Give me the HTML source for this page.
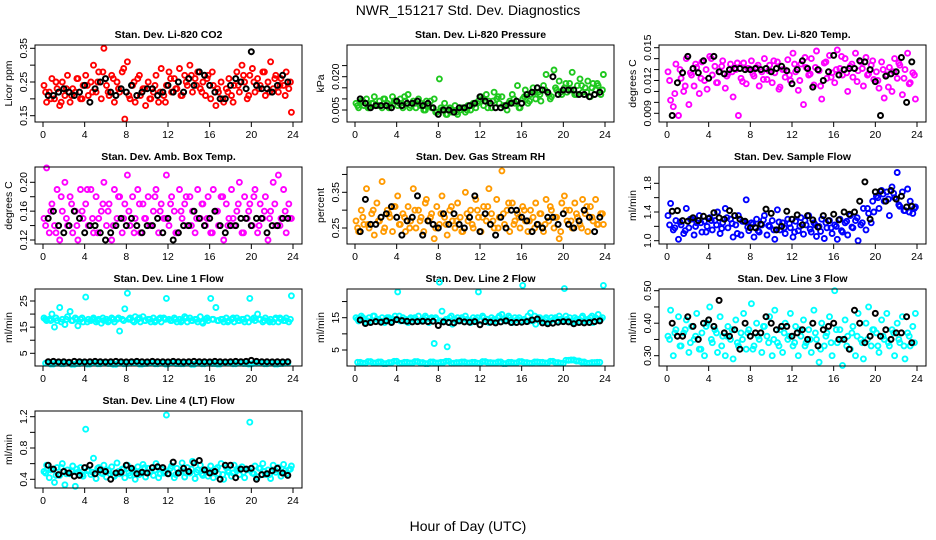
<!DOCTYPE html>
<html><head><meta charset="utf-8"><style>
html,body{margin:0;padding:0;background:#fff;}
svg{display:block;font-family:"Liberation Sans",Arial,sans-serif;}
</style></head><body>
<svg id="chart" width="936" height="540" viewBox="0 0 936 540" xmlns="http://www.w3.org/2000/svg">
<rect width="936" height="540" fill="#fff"/>
<text x="468" y="15" font-size="14" text-anchor="middle">NWR_151217  Std. Dev. Diagnostics</text>
<text x="468" y="531" font-size="14" text-anchor="middle">Hour of Day (UTC)</text>
<g id="panels"></g>
</svg>
<script>
// mode 0: every 0.25 h from 0.1 h; mode 1: every 0.5 h from 0.5 h; mode 2: every 0.5 h from 0.25 h
const xTicks = [0,4,8,12,16,20,24];
const co2Vals = [.24,.19,.22,.26,.20,.23,.18,.25,.21,.27,.19,.23,.22,.26,.20,.24,.27,.21,.25,.30,.22,.28,.20,.35,.24,.21,.27,.19,.25,.22,.28,.14,.31,.20,.24,.19,.26,.21,.23,.18,.25,.20,.22,.27,.19,.29,.21,.24,.28,.22,.26,.23,.29,.21,.27,.24,.30,.22,.26,.28,.23,.25,.21,.27,.20,.24,.18,.22,.25,.19,.23,.26,.21,.24,.28,.22,.30,.25,.20,.27,.29,.22,.26,.24,.28,.21,.25,.31,.23,.27,.22,.26,.24,.28,.23,.16];
const co2Vals2 = [.22,.20,.25,.19,.23,.21,.26,.20,.24,.22,.25,.28,.22,.26,.23,.29,.21,.25,.27,.23,.20,.24,.22,.19,.26,.23,.21,.25,.27,.24,.22,.26,.28,.23,.20,.22,.19,.24,.27,.21,.25,.23,.28,.22,.26,.24,.21,.25];
const co2Black = [.21,.21,.22,.23,.22,.21,.22,.24,.19,.23,.25,.26,.22,.21,.23,.22,.24,.21,.22,.23,.23,.21,.22,.24,.22,.25,.22,.26,.24,.28,.27,.24,.22,.20,.20,.24,.26,.25,.23,.34,.24,.23,.23,.22,.24,.27,.25];
const presVals = [.008,.006,.009,.007,.010,.006,.008,.011,.007,.009,.006,.010,.008,.007,.011,.009,.007,.010,.006,.009,.012,.007,.009,.006,.010,.008,.005,.009,.007,.006,.010,.004,.019,.005,.008,.003,.006,.004,.007,.003,.005,.006,.004,.007,.005,.008,.006,.009,.011,.007,.012,.009,.006,.013,.010,.008,.011,.007,.005,.009,.012,.008,.016,.006,.010,.014,.008,.012,.015,.010,.013,.009,.016,.021,.012,.011,.023,.014,.018,.012,.015,.013,.017,.022,.012,.016,.019,.013,.015,.018,.011,.017,.014,.016,.012,.021];
const presVals2 = [.007,.009,.006,.008,.007,.010,.006,.009,.008,.011,.006,.008,.007,.005,.009,.004,.006,.003,.005,.004,.006,.005,.007,.008,.010,.006,.009,.011,.007,.008,.010,.006,.011,.009,.013,.012,.014,.010,.015,.013,.017,.014,.012,.016,.013,.015,.017,.014];
const presBlack = [.010,.008,.006,.007,.007,.007,.006,.009,.007,.008,.008,.009,.007,.008,.006,.003,.005,.005,.004,.006,.006,.007,.008,.011,.009,.008,.006,.006,.007,.008,.009,.008,.012,.013,.015,.014,.013,.020,.012,.014,.014,.014,.012,.012,.011,.012,.013];
const liTempVals = [.0128,.0102,.0096,.0135,.0088,.0122,.0110,.0140,.0098,.0125,.0115,.0132,.0108,.0137,.0120,.0112,.0142,.0125,.0133,.0118,.0128,.0138,.0113,.0126,.0135,.0105,.0130,.0088,.0122,.0136,.0117,.0131,.0138,.0124,.0132,.0115,.0128,.0140,.0121,.0134,.0118,.0127,.0137,.0114,.0130,.0123,.0139,.0120,.0145,.0128,.0111,.0135,.0098,.0132,.0125,.0140,.0116,.0147,.0129,.0103,.0136,.0122,.0143,.0127,.0118,.0148,.0131,.0125,.0140,.0110,.0133,.0123,.0145,.0129,.0137,.0115,.0141,.0126,.0134,.0121,.0128,.0113,.0137,.0104,.0125,.0132,.0110,.0140,.0122,.0134,.0107,.0130,.0145,.0118,.0127,.0103];
const liTempVals2 = [.0120,.0108,.0130,.0115,.0127,.0135,.0122,.0130,.0140,.0118,.0133,.0124,.0128,.0136,.0119,.0131,.0126,.0134,.0121,.0129,.0138,.0112,.0130,.0125,.0135,.0120,.0141,.0126,.0132,.0115,.0137,.0123,.0130,.0142,.0127,.0135,.0119,.0131,.0125,.0138,.0120,.0130,.0114,.0128,.0136,.0122,.0117,.0125];
const liTempBlack = [.0088,.0118,.0127,.0142,.0131,.0127,.0138,.0122,.0142,.0128,.0126,.0130,.0131,.0131,.0130,.0130,.0131,.0130,.0131,.0128,.0131,.0133,.0129,.0117,.0130,.0138,.0131,.0114,.0130,.0120,.0128,.0143,.0125,.0130,.0131,.0131,.0138,.0137,.0130,.0119,.0088,.0124,.0126,.0128,.0141,.0100,.0137];
const ambVals = [.15,.22,.13,.17,.14,.19,.12,.16,.20,.14,.18,.13,.16,.12,.19,.15,.17,.14,.19,.13,.18,.15,.16,.20,.14,.17,.12,.19,.15,.18,.13,.17,.21,.14,.18,.15,.19,.13,.17,.15,.18,.14,.16,.19,.13,.17,.15,.21,.14,.18,.16,.13,.19,.15,.17,.14,.18,.16,.13,.19,.15,.17,.14,.18,.13,.19,.16,.14,.18,.12,.17,.15,.19,.14,.16,.20,.13,.18,.15,.17,.14,.19,.13,.17,.15,.18,.12,.16,.20,.14,.21,.15,.19,.13,.17,.15];
const ambVals2 = [.14,.16,.13,.18,.15,.17,.14,.16,.19,.15,.13,.17,.16,.14,.18,.15,.16,.13,.17,.15,.14,.18,.16,.15,.17,.13,.16,.18,.14,.15,.17,.15,.13,.16,.18,.14,.15,.17,.13,.16,.18,.14,.16,.15,.17,.14,.16,.15];
const ambBlack = [.15,.16,.14,.13,.14,.16,.15,.13,.14,.14,.13,.12,.13,.14,.15,.14,.15,.14,.13,.14,.14,.15,.13,.15,.12,.13,.14,.14,.16,.15,.14,.15,.16,.14,.13,.14,.14,.15,.15,.14,.15,.15,.13,.14,.14,.15,.15];
const rhVals = [.27,.24,.30,.26,.36,.25,.29,.23,.32,.27,.38,.25,.30,.28,.24,.31,.34,.26,.29,.24,.31,.27,.36,.25,.30,.28,.24,.33,.27,.29,.22,.31,.26,.34,.28,.23,.30,.27,.25,.32,.28,.24,.35,.27,.30,.25,.33,.28,.24,.31,.27,.36,.29,.25,.33,.28,.41,.26,.30,.24,.32,.27,.29,.25,.31,.27,.24,.30,.28,.32,.26,.29,.24,.33,.27,.30,.25,.28,.22,.32,.34,.27,.30,.25,.32,.28,.26,.33,.29,.24,.31,.27,.33,.26,.29,.26];
const rhVals2 = [.25,.28,.26,.30,.27,.24,.29,.31,.26,.28,.25,.30,.27,.32,.28,.25,.29,.26,.31,.27,.24,.29,.26,.30,.28,.31,.27,.25,.29,.32,.26,.28,.30,.27,.25,.29,.26,.31,.28,.24,.30,.27,.29,.25,.31,.28,.26,.29];
const rhBlack = [.24,.33,.26,.26,.28,.29,.31,.28,.23,.27,.28,.34,.23,.27,.26,.25,.29,.26,.29,.26,.25,.28,.34,.24,.29,.26,.23,.28,.25,.30,.30,.28,.27,.24,.26,.25,.28,.28,.26,.29,.26,.25,.27,.30,.28,.24,.28];
const sfVals = [1.35,1.52,1.15,1.28,1.02,1.22,1.10,1.45,1.18,1.30,1.08,1.25,1.35,1.12,1.27,1.20,1.32,1.15,1.28,1.40,1.10,1.25,1.45,1.18,1.30,1.05,1.22,1.35,1.08,1.27,1.57,1.14,1.25,1.05,1.30,1.12,1.22,1.35,1.08,1.20,1.28,1.02,1.43,1.15,1.25,1.10,1.30,1.18,1.05,1.27,1.14,1.32,1.09,1.22,1.35,1.12,1.25,1.06,1.20,1.30,1.03,1.18,1.28,1.10,1.22,1.02,1.30,1.12,1.25,1.08,1.35,1.18,1.28,1.00,1.22,1.45,1.15,1.38,1.25,1.40,1.62,1.45,1.70,1.55,1.68,1.35,1.75,1.60,1.95,1.48,1.68,1.42,1.72,1.55,1.38,1.47];
const sfVals2 = [1.22,1.18,1.26,1.14,1.30,1.20,1.25,1.12,1.28,1.22,1.17,1.32,1.24,1.10,1.27,1.19,1.23,1.14,1.29,1.21,1.15,1.26,1.18,1.24,1.12,1.20,1.28,1.16,1.22,1.13,1.25,1.18,1.20,1.14,1.27,1.19,1.32,1.25,1.45,1.55,1.60,1.65,1.58,1.66,1.50,1.42,1.40,1.45];
const sfBlack = [1.41,1.42,1.28,1.27,1.32,1.28,1.34,1.31,1.39,1.32,1.30,1.42,1.35,1.30,1.27,1.18,1.18,1.23,1.44,1.38,1.15,1.20,1.41,1.30,1.36,1.22,1.35,1.29,1.19,1.35,1.28,1.37,1.29,1.40,1.37,1.40,1.55,1.82,1.30,1.68,1.69,1.55,1.70,1.58,1.62,1.47,1.48];
const l1Upper = [18.5,17.5,18,20,15,17.5,22.5,18,16,19,21,17.5,18.5,15.5,18,17,26.5,18,17.5,18.5,17,18,16.5,17.5,18,17.5,18.5,17,18,13.5,18,22,28,18.5,17.5,19,18,17,19,17.5,18,17,18.5,17.5,18,17,18.5,26,18,17.5,18.5,17,18,17.5,19,17,18.5,17.5,18,17,19,16.5,18,17.5,26,18,22.5,17.5,18,17,18.5,17.5,18,17,18.5,17.5,18,17,18.5,26,18,17.5,20,18,17,18.5,17.5,18,17,18.5,17,18,17.5,18.5,17,27];
const l1Upper2 = [18,17.5,18.5,17,18,17.5,18,18.5,17,18,17.5,18.5,17,18,18.5,17.5,18,17,18.5,17.5,18,17,18.5,18,17.5,18,17,18.5,17.5,18,17,18.5,18,17.5,18,17,18.5,17.5,18,17,18.5,18,17.5,17,18,18.5,17.5,18];
const l1Lower = [1.2,0.9,1.4,1.0,1.3,0.8,1.1,1.5,0.9,1.2,1.0,1.4,1.1,0.8,1.3,1.0,1.2,1.5,0.9,1.1,1.3,1.0,1.2,0.9,1.4,1.1,1.0,1.3,0.8,1.2,1.0,1.4,1.1,0.9,1.3,1.2,1.0,1.5,1.1,0.9,1.2,1.4,1.0,1.3,0.9,1.1,1.2];
const l1Black = [1.8,1.9,1.7,1.8,1.6,1.9,1.8,1.7,1.8,1.9,1.8,1.7,1.8,1.9,1.8,1.7,1.8,1.9,1.8,1.7,1.9,1.8,1.8,1.7,1.9,1.8,1.7,1.8,1.9,1.8,1.8,1.7,1.9,1.8,1.7,1.8,1.9,1.8,1.9,2.3,1.9,1.8,1.8,1.7,1.8,1.7,1.8];
const l2Upper = [15,14,15.5,14.5,13.5,15,14,15.5,14.5,14,15,13.5,15,14.5,14,15.5,23,14,15,14.5,13.5,15,14.5,14,15.5,14,14.5,15,13.5,15,7,14.5,26,17,14,6,15,13,14.5,15,14,14.5,15.5,14,13.5,15,14.5,23,14,15,14.5,13.5,15,14.5,14,15.5,16,14,14.5,15,13.5,15,14.5,14,25,14,15.5,16.5,14,13,15,14.5,14,15,13.5,15,14.5,14,15.5,14,24,14.5,15,13.5,15,14.5,14,15.5,14,14.5,15,13.5,15,16,14.5,25];
const l2Upper2 = [14.5,15,14,15.5,14.5,14,15,14.5,15.5,14,14.5,15,14,15.5,14.5,15,14,14.5,15.5,14,15,14.5,14,15,15.5,14.5,14,15,14.5,15.5,14,15,14.5,14,15.5,15,14.5,14,15,14.5,15.5,14,14.5,15,14,15.5,14.5,15];
const l2Lower = [1.2,0.9,1.4,1.0,1.3,0.8,1.1,1.5,0.9,1.2,1.0,1.4,1.1,0.8,1.3,1.0,1.2,1.5,0.9,1.1,1.3,1.0,1.2,0.9,1.4,1.1,1.0,1.3,0.8,1.2,1.0,1.4,1.1,0.9,1.3,1.2,1.0,1.5,1.1,0.9,1.8,1.9,1.6,1.3,0.9,1.1,1.2];
const l2Black = [14.3,13.2,13.5,13.8,13.6,14.0,13.5,14.4,14.1,13.9,13.7,13.8,13.9,13.8,13.9,12.6,13.7,13.5,13.4,14.0,13.7,13.6,13.8,12.8,13.8,13.6,13.4,13.7,14.0,13.5,13.5,13.6,13.8,14.3,14.6,13.4,13.1,13.3,13.6,13.8,13.7,13.1,13.5,13.4,13.5,13.8,14.0];
const l3Vals = [.36,.44,.30,.38,.42,.33,.37,.41,.31,.39,.35,.43,.32,.37,.30,.40,.45,.34,.38,.31,.42,.36,.30,.39,.35,.29,.41,.33,.37,.43,.32,.38,.46,.33,.40,.35,.31,.39,.36,.42,.30,.44,.34,.38,.31,.40,.35,.43,.33,.39,.30,.36,.41,.34,.38,.31,.44,.35,.28,.40,.33,.37,.42,.30,.50,.34,.38,.27,.41,.36,.32,.39,.30,.43,.35,.29,.40,.45,.33,.38,.37,.31,.41,.35,.43,.33,.38,.30,.40,.34,.42,.29,.37,.33,.39,.43];
const l3Vals2 = [.35,.37,.33,.38,.34,.36,.32,.39,.35,.37,.33,.36,.38,.34,.35,.37,.32,.36,.39,.34,.35,.33,.37,.36,.34,.38,.33,.35,.37,.32,.36,.34,.38,.35,.33,.37,.36,.34,.35,.38,.33,.36,.34,.37,.35,.33,.36,.34];
const l3Black = [.40,.36,.36,.42,.39,.35,.40,.41,.39,.47,.37,.36,.38,.32,.40,.36,.37,.37,.42,.40,.38,.39,.39,.36,.37,.38,.35,.40,.33,.38,.39,.40,.35,.35,.32,.44,.40,.34,.36,.43,.36,.38,.35,.37,.37,.42,.34];
const l4Vals = [.50,.58,.42,.53,.36,.55,.45,.60,.33,.52,.47,.57,.31,.49,.55,.44,1.04,.52,.46,.67,.41,.55,.48,.58,.43,.51,.56,.44,.61,.47,.53,.42,.58,.45,.52,.40,.56,.48,.59,.43,.54,.50,.45,.60,.42,.53,.48,1.22,.47,.57,.42,.54,.49,.61,.43,.55,.48,.63,.41,.52,.58,.45,.50,.44,.57,.42,.53,.47,.60,.40,.55,.49,.44,.58,.51,.46,.56,.42,.53,1.13,.48,.57,.43,.54,.60,.46,.52,.41,.58,.49,.55,.44,.59,.47,.52,.57];
const l4Vals2 = [.48,.52,.45,.55,.47,.50,.53,.46,.51,.49,.54,.47,.52,.45,.50,.53,.48,.51,.46,.55,.49,.52,.47,.50,.54,.46,.51,.48,.53,.49,.47,.52,.50,.55,.46,.51,.48,.53,.49,.52,.47,.54,.50,.46,.52,.49,.51,.53];
const l4Black = [.58,.53,.46,.50,.48,.44,.45,.55,.58,.47,.52,.50,.40,.48,.49,.58,.54,.47,.49,.48,.55,.56,.55,.47,.62,.48,.54,.50,.61,.64,.52,.48,.50,.40,.58,.58,.42,.53,.53,.54,.40,.46,.47,.51,.54,.48,.45];

const co2Ticks=[0.15,0.20,0.25,0.30,0.35], co2Labels=["0.15","","0.25","","0.35"];
const presTicks=[0.005,0.010,0.015,0.020,0.025], presLabels=["0.005","","","0.020",""];
const liTicks=[0.009,0.010,0.011,0.012,0.013,0.014,0.015], liLabels=["0.009","","","0.012","","","0.015"];
const ambTicks=[0.12,0.14,0.16,0.18,0.20], ambLabels=["0.12","","0.16","","0.20"];
const rhTicks=[0.25,0.30,0.35,0.40], rhLabels=["0.25","","0.35",""];
const sfTicks=[1.0,1.2,1.4,1.6,1.8], sfLabels=["1.0","","1.4","","1.8"];
const l1Ticks=[5,10,15,20,25], l1Labels=["5","","15","","25"];
const l2Ticks=[5,10,15,20], l2Labels=["5","","15",""];
const l3Ticks=[0.30,0.35,0.40,0.45,0.50], l3Labels=["0.30","","0.40","","0.50"];
const l4Ticks=[0.4,0.6,0.8,1.0,1.2], l4Labels=["0.4","","0.8","","1.2"];

const panels = [
 {name:"co2",title:"Stan. Dev. Li-820 CO2",ylab:"Licor ppm",c:0,r:0,ref:[0.35,48.3,0.15,115.7],ticks:co2Ticks,labels:co2Labels,series:[[co2Vals,"#ff0000",0],[co2Vals2,"#ff0000",2],[co2Black,"#000",1]]},
 {name:"pressure",title:"Stan. Dev. Li-820 Pressure",ylab:"kPa",c:1,r:0,ref:[0.020,76.7,0.005,110],ticks:presTicks,labels:presLabels,series:[[presVals,"#1fc81f",0],[presVals2,"#1fc81f",2],[presBlack,"#000",1]]},
 {name:"li-temp",title:"Stan. Dev. Li-820 Temp.",ylab:"degrees C",c:2,r:0,ref:[0.015,47.7,0.009,113.3],ticks:liTicks,labels:liLabels,series:[[liTempVals,"#ff00ff",0],[liTempVals2,"#ff00ff",2],[liTempBlack,"#000",1]]},
 {name:"amb-temp",title:"Stan. Dev. Amb. Box Temp.",ylab:"degrees C",c:0,r:1,ref:[0.20,60.3,0.12,118],ticks:ambTicks,labels:ambLabels,series:[[ambVals,"#ff00ff",0],[ambVals2,"#ff00ff",2],[ambBlack,"#000",1]]},
 {name:"rh",title:"Stan. Dev. Gas Stream RH",ylab:"percent",c:1,r:1,ref:[0.35,70.3,0.25,106],ticks:rhTicks,labels:rhLabels,series:[[rhVals,"#ff9a00",0],[rhVals2,"#ff9a00",2],[rhBlack,"#000",1]]},
 {name:"sample-flow",title:"Stan. Dev. Sample Flow",ylab:"ml/min",c:2,r:1,ref:[1.8,61.3,1.0,118.7],ticks:sfTicks,labels:sfLabels,series:[[sfVals,"#0000ff",0],[sfVals2,"#0000ff",2],[sfBlack,"#000",1]]},
 {name:"line1",title:"Stan. Dev. Line 1 Flow",ylab:"ml/min",c:0,r:2,ref:[25,57,5,109.3],ticks:l1Ticks,labels:l1Labels,series:[[l1Upper,"#00ffff",0],[l1Upper2,"#00ffff",2],[l1Lower,"#00ffff",1],[l1Lower,"#00ffff",2],[l1Black,"#000",1]]},
 {name:"line2",title:"Stan. Dev. Line 2 Flow",ylab:"ml/min",c:1,r:2,ref:[15,73.7,5,106],ticks:l2Ticks,labels:l2Labels,series:[[l2Upper,"#00ffff",0],[l2Upper2,"#00ffff",2],[l2Lower,"#00ffff",1],[l2Lower,"#00ffff",2],[l2Black,"#000",1]]},
 {name:"line3",title:"Stan. Dev. Line 3 Flow",ylab:"ml/min",c:2,r:2,ref:[0.50,46.7,0.30,111.7],ticks:l3Ticks,labels:l3Labels,series:[[l3Vals,"#00ffff",0],[l3Vals2,"#00ffff",2],[l3Black,"#000",1]]},
 {name:"line4",title:"Stan. Dev. Line 4 (LT) Flow",ylab:"ml/min",c:0,r:3,ref:[1.2,50.7,0.4,113.3],ticks:l4Ticks,labels:l4Labels,series:[[l4Vals,"#00ffff",0],[l4Vals2,"#00ffff",2],[l4Black,"#000",1]]}
];
const NS="http://www.w3.org/2000/svg";
const root=document.getElementById('panels');
function mk(tag,attrs,parent){const e=document.createElementNS(NS,tag);for(const k in attrs)e.setAttribute(k,attrs[k]);parent.appendChild(e);return e;}
function hourOf(mode,i){return mode===0?0.1+i*0.25:(mode===1?0.5+i*0.5:0.25+i*0.5);}
panels.forEach(p=>{
  const ox=312*p.c, oy=122*p.r;
  const bl=35+ox, br=302+ox, bt=45+oy, bb=122+oy;
  const xs=h=>43+ox+h*(250/24);
  const [v1,y1,v2,y2]=p.ref;
  const ys=v=>oy+y1+(v-v1)*(y2-y1)/(v2-v1);
  const g=mk('g',{},root);
  
  
  const t=mk('text',{x:(bl+br)/2,y:38+oy,'font-size':10.5,'font-weight':'bold','text-anchor':'middle'},g);
  t.textContent=p.title;
  
  
  const yl=mk('text',{x:0,y:0,'font-size':10.5,'text-anchor':'middle',transform:`translate(${12+ox},${(bt+bb)/2}) rotate(-90)`},g);
  yl.textContent=p.ylab;
  
  
  const pts=mk('g',{fill:'none'},g);
  
  
  p.series.forEach(([vals,col,mode])=>{
    vals.forEach((v,i)=>{
      const c=mk('circle',{cx:xs(hourOf(mode,i)).toFixed(1),cy:ys(v).toFixed(1),r:2.5,stroke:col,'stroke-width':col==="#000"?2:1.9},pts);
      
      
    });
  });
  const box=mk('rect',{x:bl,y:bt,width:br-bl,height:bb-bt,fill:'none',stroke:'#000','stroke-width':1},g);
  
  
  const xa=mk('g',{},g);
  
  
  xTicks.forEach(h=>{
    mk('line',{x1:xs(h),x2:xs(h),y1:bb,y2:bb+5,stroke:'#000'},xa);
    const tl=mk('text',{x:xs(h),y:bb+16,'font-size':10.5,'text-anchor':'middle'},xa);
    tl.textContent=String(h);
    
    
  });
  const ya=mk('g',{},g);
  
  
  p.ticks.forEach((v,i)=>{
    const y=ys(v);
    mk('line',{x1:bl-5,x2:bl,y1:y,y2:y,stroke:'#000'},ya);
    if(p.labels[i]){
      const tl=mk('text',{x:0,y:0,'font-size':10.5,'text-anchor':'middle',transform:`translate(${bl-8},${y}) rotate(-90)`},ya);
      tl.textContent=p.labels[i];
      
      
    }
  });
});
</script>
</body></html>
